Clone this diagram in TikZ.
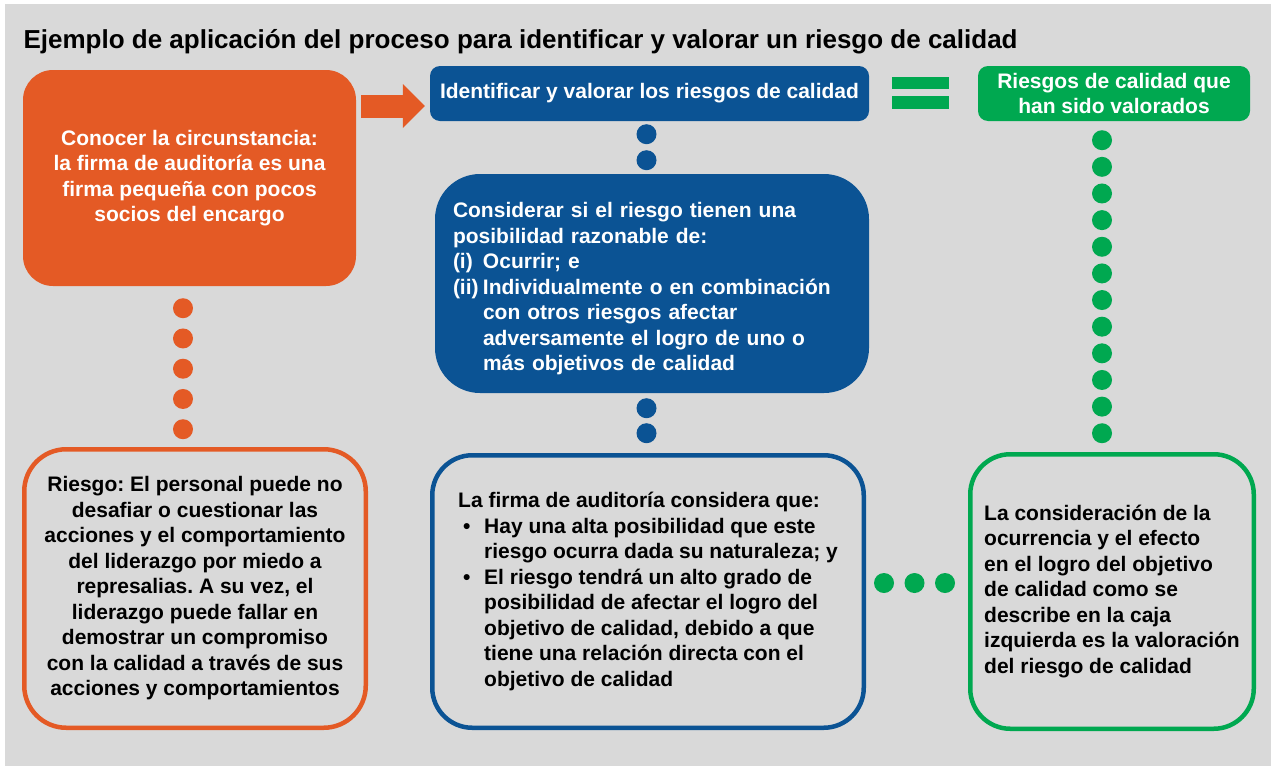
\documentclass[tikz,border=0pt]{standalone}
\usepackage{fontspec}
\setmainfont{Liberation Sans}
\usetikzlibrary{arrows.meta}
\definecolor{naranja}{HTML}{E45A25}
\definecolor{azul}{HTML}{0B5394}
\definecolor{verde}{HTML}{00A850}
\definecolor{fondo}{HTML}{D9D9D9}
\frenchspacing

\begin{document}
\begin{tikzpicture}[x=1pt, y=-1pt,
    texto/.style={font=\bfseries\fontsize{21}{25.5}\selectfont},
    lleno/.style={texto, text=white, inner sep=0pt},
    borde/.style={texto, draw, line width=4.5pt, text=black},
    puntos/.style={line width=20pt, line cap=round, dash pattern=on 0pt off #1}]
    \useasboundingbox (0,0) rectangle (1271,766);
    \fill[fondo] (5,4) rectangle (1271,766);
    \node[anchor=base west, font=\bfseries\fontsize{26}{30}\selectfont] (titulo) at (20,48) {Ejemplo de aplicación del proceso para identificar y valorar un riesgo de calidad};
    % fila de arriba
    \node[lleno, fill=naranja, rounded corners=30pt, minimum width=333pt, minimum height=216pt, align=center] (conocer) at (189.5,178) {Conocer la circunstancia:\\la firma de auditoría es una\\firma pequeña con pocos\\socios del encargo};
    \node[lleno, fill=azul, rounded corners=10pt, minimum width=439pt, minimum height=55pt] (identificar) at (649.5,93.5) {Identificar y valorar los riesgos de calidad};
    \node[lleno, fill=verde, rounded corners=10pt, minimum width=272pt, minimum height=55pt, align=center] (valorados) at (1114,93.5) {Riesgos de calidad que\\han sido valorados};
    \fill[verde] (892,77) rectangle (949,89);
    \fill[verde] (892,96) rectangle (949,109);
    \node[lleno, fill=azul, rounded corners=45pt, minimum width=434pt, minimum height=219pt, text width=398pt, inner xsep=18pt, align=left] (considerar) at (652,283.5) {\rule{0pt}{25.5pt}Considerar si el riesgo tienen una\\posibilidad razonable de:\\\makebox[30pt][l]{(i)}Ocurrir; e\\\makebox[30pt][l]{(ii)}Individualmente o en combinación\\\hspace*{30pt}con otros riesgos afectar\\\hspace*{30pt}adversamente el logro de uno o\\\hspace*{30pt}más objetivos de calidad};
    % fila de abajo
    \node[borde, draw=naranja, rounded corners=42pt, minimum width=341.5pt, minimum height=278.5pt, align=center] (riesgo) at (195,588.5) {Riesgo: El personal puede no\\desafiar o cuestionar las\\acciones y el comportamiento\\del liderazgo por miedo a\\represalias. A su vez, el\\liderazgo puede fallar en\\demostrar un compromiso\\con la calidad a través de sus\\acciones y comportamientos};
    \node[borde, draw=azul, rounded corners=40pt, minimum width=431.5pt, minimum height=272.5pt, align=left] (firma) at (648,591.5) {La firma de auditoría considera que:\\\makebox[26pt][l]{\hspace{5pt}•}Hay una alta posibilidad que este\\\hspace*{26pt}riesgo ocurra dada su naturaleza; y\\\makebox[26pt][l]{\hspace{5pt}•}El riesgo tendrá un alto grado de\\\hspace*{26pt}posibilidad de afectar el logro del\\\hspace*{26pt}objetivo de calidad, debido a que\\\hspace*{26pt}tiene una relación directa con el\\\hspace*{26pt}objetivo de calidad};
    \node[borde, draw=verde, rounded corners=40pt, minimum width=283.5pt, minimum height=274.5pt, align=left] (consideracion) at (1112,591.5) {La consideración de la\\ocurrencia y el efecto\\en el logro del objetivo\\de calidad como se\\describe en la caja\\izquierda es la valoración\\del riesgo de calidad};
    % conectores
    \coordinate (ay) at (0,106);
    \coordinate (ox) at (183,0);
    \coordinate (bx) at (646.5,0);
    \coordinate (gx) at (1102,0);
    \coordinate (gy) at (0,583);
    \draw[naranja, line width=23pt, -{Triangle[length=22pt,width=44pt,line width=0pt]}, shorten <=5pt, shorten >=5pt] (conocer.east |- ay) -- (identificar.west |- ay);
    \draw[naranja, puntos=30.25pt, shorten <=22pt, shorten >=17.5pt] (conocer.south -| ox) -- (riesgo.north -| ox);
    \draw[azul, puntos=26pt, shorten <=13pt, shorten >=13.5pt] (identificar.south -| bx) -- (considerar.north -| bx);
    \draw[azul, puntos=25pt, shorten <=15pt, shorten >=19.5pt] (considerar.south -| bx) -- (firma.north -| bx);
    \draw[verde, puntos=26.64pt, shorten <=19pt, shorten >=18.5pt] (valorados.south -| gx) -- (consideracion.north -| gx);
    \draw[verde, puntos=30.5pt, shorten <=18pt, shorten >=22.5pt] (firma.east |- gy) -- (consideracion.west |- gy);
\end{tikzpicture}
\end{document}
